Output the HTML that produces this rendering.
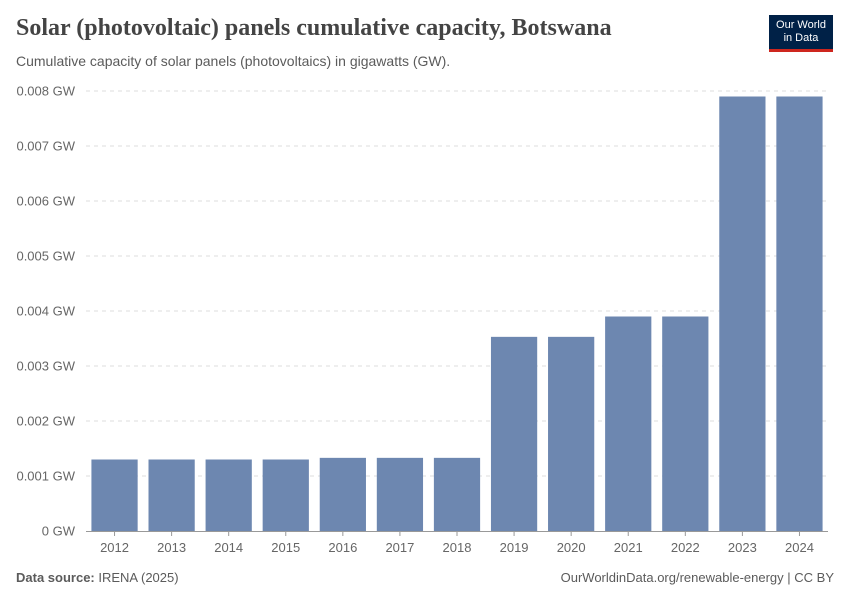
<!DOCTYPE html>
<html><head><meta charset="utf-8"><style>
body{margin:0;background:#fff;font-family:"Liberation Sans",sans-serif;}
#wrap{position:relative;width:850px;height:600px;overflow:hidden;}
</style></head><body>
<div id="wrap">
<div style="position:absolute;left:16px;top:15px;font-family:'Liberation Serif',serif;font-weight:bold;font-size:24px;color:#444;">Solar (photovoltaic) panels cumulative capacity, Botswana</div>
<div style="position:absolute;left:16px;top:53px;font-size:14px;color:#5b5b5b;">Cumulative capacity of solar panels (photovoltaics) in gigawatts (GW).</div>
<div style="position:absolute;left:769px;top:15px;width:64px;height:37px;background:#002147;border-bottom:3px solid #ce261e;color:#fff;font-size:11px;line-height:13px;text-align:center;padding-top:4px;box-sizing:border-box;">Our World<br>in Data</div>
<svg id="chart" width="850" height="600" style="position:absolute;left:0;top:0"></svg>
<div style="position:absolute;left:16px;top:570px;font-size:13px;color:#5b5b5b;"><b>Data source:</b> IRENA (2025)</div>
<div style="position:absolute;right:16px;top:570px;font-size:13px;color:#5b5b5b;">OurWorldinData.org/renewable-energy | CC BY</div>
</div>
<script>
const years=["2012","2013","2014","2015","2016","2017","2018","2019","2020","2021","2022","2023","2024"];
const values=[0.0013,0.0013,0.0013,0.0013,0.00133,0.00133,0.00133,0.00353,0.00353,0.0039,0.0039,0.0079,0.0079];
const ticks=[0,0.001,0.002,0.003,0.004,0.005,0.006,0.007,0.008];
const tickLabels=["0 GW","0.001 GW","0.002 GW","0.003 GW","0.004 GW","0.005 GW","0.006 GW","0.007 GW","0.008 GW"];
const NS="http://www.w3.org/2000/svg";
const svg=document.getElementById('chart');
const x0=86,x1=828,y0=531,y1=91;
const y=v=>y0-(v/0.008)*(y0-y1);
const step=(x1-x0)/years.length;
const x=i=>x0+i*step;
function mk(t,a){const e=document.createElementNS(NS,t);for(const k in a)e.setAttribute(k,a[k]);svg.appendChild(e);return e;}
ticks.forEach((t,i)=>{
 if(t>0){const g=mk('line',{x1:x0,x2:x1,y1:y(t),y2:y(t),stroke:'#ddd','stroke-dasharray':'4,4'});
 
 }
 const l=mk('text',{x:75,y:y(t)+4.5,'text-anchor':'end','font-size':'13','fill':'#666','font-family':'Liberation Sans'});
 l.textContent=tickLabels[i];
 
 
});
const ax=mk('line',{x1:x0,x2:x1,y1:y0+0.5,y2:y0+0.5,stroke:'#999'});


years.forEach((yr,i)=>{
 const bw=step*0.81;
 const r=mk('rect',{x:x(i)+(step-bw)/2,y:y(values[i]),width:bw,height:y0-y(values[i]),fill:'#6d87b0'});
 
 
 const tk=mk('line',{x1:x(i)+step/2,x2:x(i)+step/2,y1:y0,y2:y0+5,stroke:'#999'});
 
 
 const l=mk('text',{x:x(i)+step/2,y:552,'text-anchor':'middle','font-size':'13','fill':'#666','font-family':'Liberation Sans'});
 l.textContent=yr;
 
 
});
</script>
</body></html>
